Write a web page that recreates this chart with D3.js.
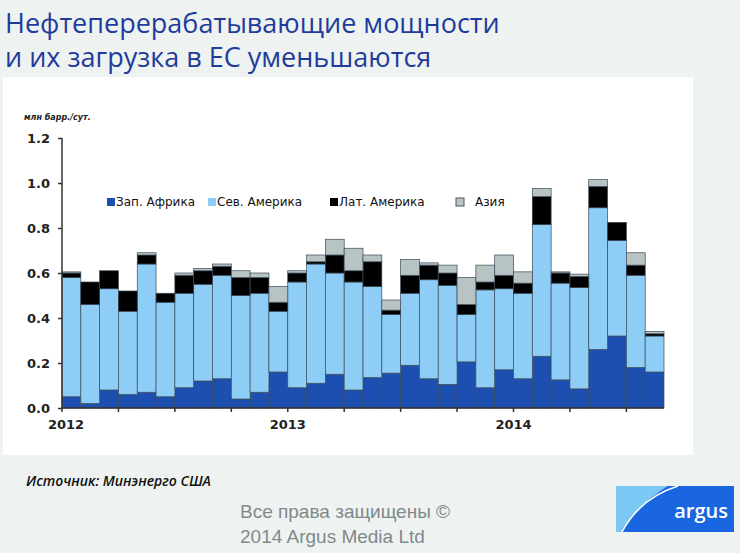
<!DOCTYPE html>
<html><head><meta charset="utf-8">
<script src="https://cdn.jsdelivr.net/npm/d3@7"></script>
<style>body{margin:0;background:#eef3f2}svg{display:block}</style>
</head><body>
<script>
var months = d3.range(32).map(function (i) { return new Date(2012, i, 1); });
var africa  = [.05,.02,.08,.06,.07,.05,.09,.12,.13,.04,.07,.16, .09,.11,.15,.08,.135,.155,.19,.13,.105,.205,.09,.17, .13,.23,.125,.085,.26,.32,.18,.16];
var namer   = [.53,.44,.45,.37,.57,.42,.42,.43,.46,.46,.44,.27, .47,.53,.45,.48,.405,.26,.32,.44,.44,.21,.435,.36, .38,.585,.43,.45,.63,.425,.41,.16];
var latam   = [.02,.10,.08,.09,.04,.04,.08,.06,.04,.08,.07,.04, .04,.01,.08,.05,.11,.02,.08,.065,.055,.045,.035,.06, .045,.125,.045,.05,.095,.08,.045,.01];
var asia    = [.005,0,0,0,.01,0,.01,.01,.01,.03,.02,.07, .01,.03,.07,.10,.03,.045,.07,.01,.035,.12,.075,.09, .05,.035,.005,.01,.03,0,.055,.01];
var keys = ["Зап. Африка", "Сев. Америка", "Лат. Америка", "Азия"];
var colors = ["#1d4fb0", "#8ecdf5", "#000000", "#b8c4c4"];
var yTicks = [0, 0.2, 0.4, 0.6, 0.8, 1.0, 1.2];

var rows = months.map(function (m, i) {
    return { date: m, "Зап. Африка": africa[i], "Сев. Америка": namer[i], "Лат. Америка": latam[i], "Азия": asia[i] };
});

var svg = d3.select("body").append("svg").attr("width", 740).attr("height", 553);

// title
var title = svg.append("text").attr("fill", "#1f3c9c").style("font-family", "Open Sans").style("font-size", "27px");
title.append("tspan").attr("x", 5).attr("y", 33).text("Нефтеперерабатывающие мощности");
title.append("tspan").attr("x", 5).attr("y", 67).text("и их загрузка в ЕС уменьшаются");

svg.append("rect").attr("x", 3).attr("y", 77).attr("width", 690).attr("height", 378).attr("fill", "#fff");

var margin = { left: 62, top: 138 }, width = 602, height = 270;
var g = svg.append("g").attr("transform", "translate(" + margin.left + "," + margin.top + ")");

var x = d3.scaleBand().domain(months).range([0, width]).padding(0);
var y = d3.scaleLinear().domain([0, 1.2]).range([height, 0]);

var stack = d3.stack().keys(keys)(rows);

g.selectAll("g.series").data(stack).enter().append("g")
    .attr("fill", function (d, i) { return colors[i]; })
    .selectAll("rect").data(function (d) { return d; }).enter().append("rect")
    .attr("x", function (d) { return x(d.data.date); })
    .attr("width", x.bandwidth())
    .attr("y", function (d) { return y(d[1]); })
    .attr("height", function (d) { return y(d[0]) - y(d[1]); })
    .attr("stroke", "#3a4a5a").attr("stroke-width", 0.7);

var yAxis = d3.axisLeft(y).tickValues(yTicks).tickFormat(d3.format(".1f")).tickSize(4).tickPadding(8);
var ya = g.append("g").call(yAxis);
var xAxis = d3.axisBottom(x)
    .tickValues(months.filter(function (d, i) { return i % 3 == 0; }))
    .tickFormat(function (d) { return d.getMonth() == 0 ? d.getFullYear() : ""; })
    .tickSize(4);
var xa = g.append("g").attr("transform", "translate(0," + height + ")").call(xAxis);
xa.selectAll(".tick").attr("transform", function (d) { return "translate(" + x(d) + ",0)"; });
[ya, xa].forEach(function (a) {
    a.selectAll("path,line").attr("stroke", "#333").attr("stroke-width", 1.5);
    a.selectAll("text").attr("fill", "#222").style("font-family", "DejaVu Sans").style("font-size", "13px").style("font-weight", "600");
});
ya.select(".domain").attr("d", "M0,0V" + height);
xa.select(".domain").attr("d", "M0,0H" + width);
xa.selectAll("text").attr("dy", "1.1em").attr("dx", function (d) { return d.getFullYear() == 2012 ? "4px" : "0"; });

g.append("text").attr("x", -38).attr("y", -18).text("млн барр./сут.")
    .style("font-family", "DejaVu Sans").style("font-size", "8px").style("font-style", "italic").style("font-weight", "bold").attr("fill", "#222");

// legend
var legX = [45, 146, 268, 394];
var leg = g.selectAll("g.leg").data(keys).enter().append("g")
    .attr("transform", function (d, i) { return "translate(" + legX[i] + ",64)"; });
leg.append("rect").attr("width", 8).attr("height", 8).attr("y", -4)
    .attr("fill", function (d, i) { return colors[i]; }).attr("stroke", function (d, i) { return i == 3 ? "#556" : "none"; });
leg.append("text").attr("x", function (d, i) { return i == 3 ? 19 : 9; }).attr("dy", "0.35em").text(function (d) { return d; })
    .style("font-family", "DejaVu Sans").style("font-size", "12px").attr("fill", "#111");

svg.append("text").attr("x", 26).attr("y", 486).text("Источник: Минэнерго США")
    .style("font-family", "Open Sans").style("font-size", "14px").style("font-style", "italic").style("font-weight", "600").attr("fill", "#111");
svg.append("text").attr("x", 240).attr("y", 518).text("Все права защищены ©")
    .style("font-family", "Liberation Sans").style("font-size", "19px").attr("fill", "#7f8a8a");
svg.append("text").attr("x", 240).attr("y", 543).text("2014 Argus Media Ltd")
    .style("font-family", "Liberation Sans").style("font-size", "19px").attr("fill", "#7f8a8a");

// logo
var logo = svg.append("g").attr("transform", "translate(616,486)");
logo.append("rect").attr("width", 118).attr("height", 46).attr("fill", "#1a66e0");
logo.append("path").attr("d", "M0,0H52Q22,18 6,46H0Z").attr("fill", "#7cc8f5");
logo.append("path").attr("d", "M6,46Q24,12 62,0").attr("fill", "none").attr("stroke", "#fff").attr("stroke-width", 1.5);
logo.append("text").attr("x", 112).attr("y", 32).attr("text-anchor", "end").text("argus")
    .style("font-family", "Open Sans").style("font-size", "20px").style("font-weight", "600").attr("fill", "#fff");
</script>
</body></html>
